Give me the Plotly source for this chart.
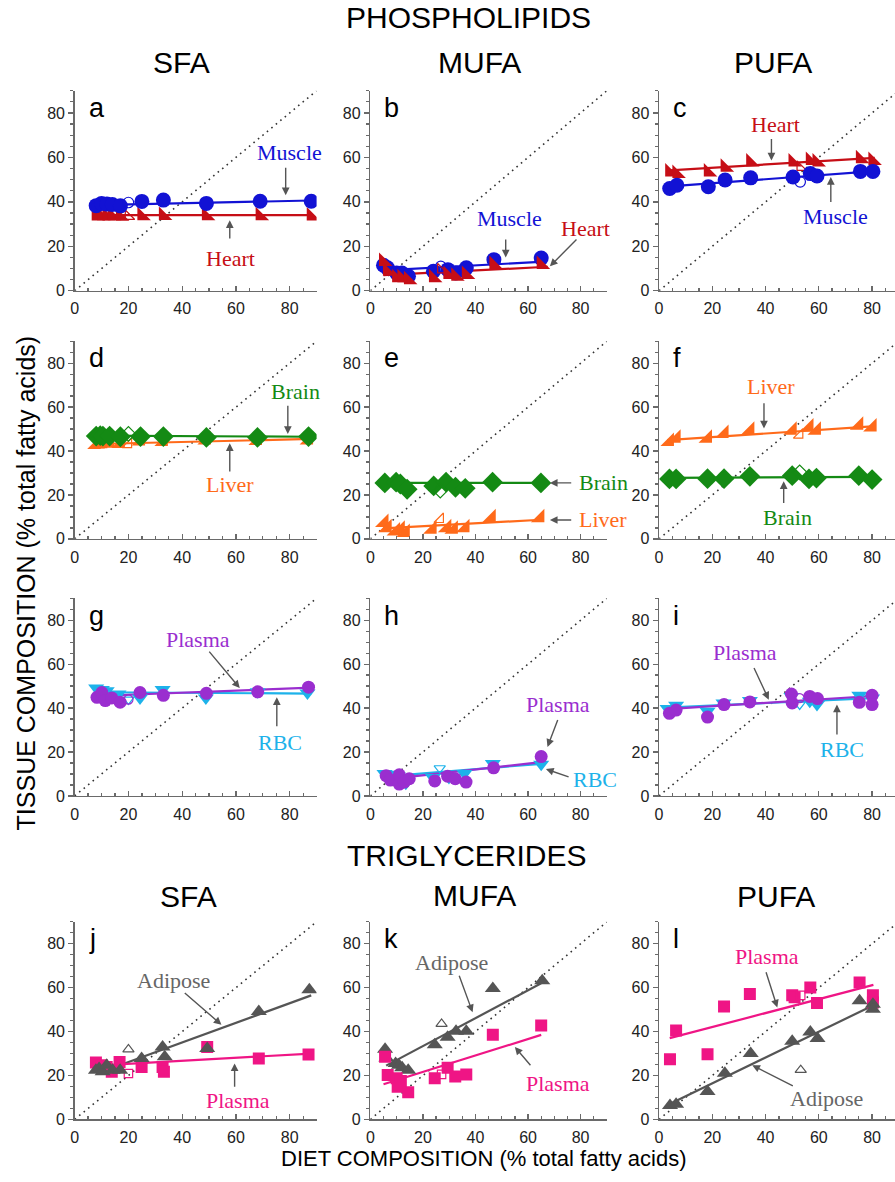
import plotly.graph_objects as go

W, H = 895, 1182

# ---------------- DATA ----------------
TICKS = [0, 20, 40, 60, 80]
IDENTITY = [0, 90]

# a : phospholipids, SFA
a_x = [8, 10, 12, 14, 17, 25, 33, 49, 69, 88]
a_muscle = [38.3, 39.3, 39.0, 38.8, 38.2, 40.2, 40.8, 39.3, 40.3, 40.3]
a_heart = [33.6, 33.8, 33.6, 33.8, 33.5, 33.8, 33.9, 33.7, 33.8, 33.6]
a_ctrl_x = [20]
a_muscle_ctrl = [39.7]
a_heart_ctrl = [33.5]
a_fit_x = [8, 88]
a_muscle_fit = [38.5, 40.6]
a_heart_fit = [34.0, 34.0]

# b : phospholipids, MUFA
b_x = [5, 6.5, 10, 12, 14.5, 24, 29.5, 32.5, 36.5, 47, 65]
b_muscle = [11.5, 10.3, 8.0, 8.0, 6.5, 8.8, 9.5, 8.0, 10.3, 14.0, 14.7]
b_heart = [13.2, 8.8, 5.8, 5.8, 5.0, 5.8, 7.3, 6.5, 7.3, 11.8, 11.8]
b_ctrl_x = [26.8]
b_muscle_ctrl = [11.0]
b_heart_ctrl = [9.5]
b_muscle_fit_x = [5, 64.5]
b_muscle_fit = [9.2, 13.0]
b_heart_fit_x = [5, 67.5]
b_heart_fit = [7.0, 10.8]

# c : phospholipids, PUFA
c_x = [4, 6.7, 18.5, 24.8, 34.4, 50.3, 56.8, 59.3, 75.6, 80.3]
c_heart = [53.4, 52.7, 53.4, 55.6, 57.9, 57.9, 58.6, 57.9, 59.4, 58.6]
c_muscle = [46.0, 47.5, 46.8, 49.8, 50.8, 51.2, 52.7, 51.6, 53.7, 53.7]
c_ctrl_x = [53]
c_heart_ctrl = [55.6]
c_muscle_ctrl = [49.0]
c_fit_x = [4, 81]
c_heart_fit = [54.2, 59.8]
c_muscle_fit = [47.0, 53.8]

# d : phospholipids, SFA
d_x = [8, 9.5, 10.5, 13, 17, 24.5, 33, 49, 68, 87]
d_brain = [46.8, 47.0, 46.8, 46.8, 46.5, 46.6, 46.6, 46.2, 46.2, 46.6]
d_liver = [43.0, 43.2, 43.3, 43.6, 43.4, 44.6, 44.3, 45.0, 44.8, 45.0]
d_ctrl_x = [20]
d_brain_ctrl = [47.8]
d_liver_ctrl = [43.0]
d_fit_x = [8, 88]
d_brain_fit = [47.0, 46.5]
d_liver_fit = [43.2, 45.5]

# e : phospholipids, MUFA
e_brain_x = [5.5, 9.8, 11.4, 14, 24.1, 28.8, 32.4, 36.1, 46.5, 64.9]
e_brain = [25.5, 25.8, 25.0, 22.6, 24.1, 25.8, 23.5, 23.0, 25.8, 25.5]
e_liver_x = [5.2, 6.4, 9.6, 11.4, 13.3, 23.5, 29.1, 31.6, 36, 46, 64.5]
e_liver = [7.4, 5.1, 3.6, 4.4, 2.9, 4.4, 5.1, 4.4, 5.1, 9.6, 9.6]
e_ctrl_x = [26.6]
e_brain_ctrl = [22.0]
e_liver_ctrl = [8.9]
e_fit_x = [5, 65]
e_brain_fit = [25.5, 25.5]
e_liver_fit = [4.8, 8.7]

# f : phospholipids, PUFA
f_x = [3.9, 6.4, 18.2, 24.4, 34.1, 50, 56.3, 59.1, 75, 80]
f_liver = [44.3, 45.8, 45.8, 48.0, 49.5, 49.5, 51.0, 49.5, 51.8, 51.0]
f_brain = [27.3, 27.3, 27.4, 27.4, 28.5, 28.8, 27.3, 27.7, 28.8, 27.0]
f_ctrl_x = [52.8]
f_liver_ctrl = [47.3]
f_brain_ctrl = [30.3]
f_fit_x = [3, 80]
f_liver_fit = [45.0, 51.2]
f_brain_fit = [27.8, 28.2]

# g : phospholipids, SFA
g_rbc_x = [8, 10.1, 11.9, 16.3, 24.3, 32.7, 48.8, 68.1, 86.6]
g_rbc = [49.1, 48.4, 47.9, 46.4, 44.6, 48.4, 44.6, 47.4, 46.9]
g_plasma_x = [8.3, 10.1, 11.4, 13.8, 16.9, 24.3, 33, 49, 68.1, 87]
g_plasma = [44.9, 47.1, 43.4, 44.6, 42.7, 47.1, 45.8, 46.7, 47.4, 49.5]
g_ctrl_x = [20]
g_rbc_ctrl = [43.9]
g_plasma_ctrl = [43.9]
g_fit_x = [8, 88]
g_plasma_fit = [45.5, 49.3]
g_rbc_fit = [47.2, 46.6]

# h : phospholipids, MUFA
h_rbc_x = [5.4, 6.6, 10.4, 13.5, 23.8, 29.9, 35.8, 46.6, 65]
h_rbc = [10.2, 9.9, 9.2, 5.8, 8.4, 8.4, 10.2, 14.7, 14.4]
h_plasma_x = [6, 7.6, 11, 11, 12.9, 14.8, 24.5, 29.4, 32.3, 36.4, 46.9, 65]
h_plasma = [9.2, 7.2, 9.6, 5.4, 6.3, 7.8, 6.8, 9.0, 7.8, 6.3, 12.8, 17.9]
h_ctrl_x = [26.4]
h_rbc_ctrl = [12.6]
h_plasma_fit_x = [6, 65]
h_plasma_fit = [7.5, 15.4]
h_rbc_fit_x = [5, 65]
h_rbc_fit = [8.8, 14.6]

# i : phospholipids, PUFA
i_rbc_x = [3.2, 6.4, 18.2, 24.2, 34.1, 49.7, 56.6, 59.3, 75.2, 80]
i_rbc = [39.8, 41.3, 38.5, 42.3, 43.4, 45.3, 43.1, 41.6, 45.8, 44.6]
i_plasma_x = [3.9, 6.4, 18.2, 24.4, 34.1, 49.7, 50, 56.6, 59.5, 75.2, 80, 80]
i_plasma = [37.6, 39.1, 35.9, 41.6, 42.8, 46.4, 42.3, 45.3, 44.3, 42.6, 45.8, 41.6]
i_ctrl_x = [52.8]
i_rbc_ctrl = [41.6]
i_plasma_ctrl = [44.5]
i_fit_x = [3, 80]
i_plasma_fit = [39.5, 45.5]
i_rbc_fit = [40.2, 44.5]

# j : triglycerides, SFA
j_adipose_x = [7.9, 9.1, 10.4, 11.9, 14.1, 16.9, 24.9, 32.7, 33.5, 49.3, 68.5, 87.3]
j_adipose = [22.4, 23.2, 21.7, 24.7, 22.4, 22.4, 27.7, 33.0, 28.5, 32.3, 49.1, 59.0]
j_plasma_x = [7.9, 10.1, 11.9, 13.8, 16.7, 24.9, 32.7, 33.2, 49.3, 68.5, 87]
j_plasma = [25.9, 24.7, 23.9, 21.7, 26.2, 23.9, 23.9, 21.7, 33.0, 27.7, 29.6]
j_ctrl_x = [20]
j_adipose_ctrl = [31.9]
j_plasma_ctrl = [20.9]
j_adipose_fit_x = [17, 88]
j_adipose_fit = [24.8, 56.5]
j_plasma_fit_x = [8, 88]
j_plasma_fit = [24.5, 30.0]

# k : triglycerides, MUFA
k_adipose_x = [5.6, 6.1, 9.6, 10.9, 12.1, 14.4, 24.5, 29.4, 32.6, 36.5, 46.6, 65.4]
k_adipose = [32.0, 28.0, 25.5, 24.7, 23.5, 22.4, 34.0, 37.4, 40.1, 40.1, 59.6, 63.1]
k_plasma_x = [5.6, 6.6, 10, 10.4, 11.6, 14.4, 24.5, 29.4, 32.3, 36.5, 46.6, 65]
k_plasma = [28.5, 20.2, 18.7, 14.9, 17.5, 12.4, 18.7, 23.5, 19.5, 20.5, 38.6, 42.8]
k_ctrl_x = [27.1]
k_adipose_ctrl = [43.5]
k_plasma_ctrl = [20.5]
k_adipose_fit_x = [6, 65]
k_adipose_fit = [24.5, 62.0]
k_plasma_fit_x = [5, 65]
k_plasma_fit = [16.0, 38.5]

# l : triglycerides, PUFA
l_plasma_x = [4.1, 6.4, 18.2, 24.4, 34.1, 50, 50.9, 56.8, 59.3, 75.3, 80.3, 80.3]
l_plasma = [27.4, 40.5, 29.7, 51.4, 57.1, 56.6, 55.6, 60.1, 53.0, 62.4, 56.6, 53.3]
l_adipose_x = [4.1, 6.4, 18.2, 24.7, 34.4, 50, 56.8, 59.5, 75.3, 80.3, 80.3]
l_adipose = [6.3, 6.9, 12.7, 21.0, 30.0, 35.6, 39.8, 36.8, 54.0, 52.5, 50.2]
l_ctrl_x = [53.2]
l_plasma_ctrl = [56.5]
l_adipose_ctrl = [22.5]
l_fit_x = [4, 80.5]
l_adipose_fit = [7.0, 52.0]
l_plasma_fit = [37.0, 61.3]

# ---------------- STYLE ----------------
C_MUSCLE = "#1212d4"
C_HEART = "#c60e16"
C_BRAIN = "#148a14"
C_LIVER = "#ff6a1a"
C_PLASMA = "#9a2ecf"
C_RBC = "#1db2ea"
C_ADIPOSE = "#555555"
C_PLASMA_TG = "#ef1585"
ARROW = "#555555"

STY = {
    "muscle": ("circle", C_MUSCLE, 15),
    "heart": ("triangle-sw", C_HEART, 15),
    "brain": ("diamond", C_BRAIN, 16),
    "liver": ("triangle-se", C_LIVER, 15),
    "plasma": ("circle", C_PLASMA, 13),
    "rbc": ("triangle-down", C_RBC, 14),
    "adipose": ("triangle-up", C_ADIPOSE, 14),
    "plasmatg": ("square", C_PLASMA_TG, 12),
}

SANS = "Liberation Sans, Arial, Helvetica, sans-serif"
SERIF = "Liberation Serif, Times New Roman, serif"

# panel geometry in pixels
COLS = [(71, 314, 90), (368, 605.6, 90), (658, 895, 88.6)]
ROWS = [(293, 2.24), (543, 2.2125), (802, 2.2125), (1128, 2.2125)]

fig = go.Figure()


def names(k):
    return ("x" if k == 1 else f"x{k}", "y" if k == 1 else f"y{k}")


def add_fit(k, xs, ys, tissue):
    xr, yr = names(k)
    fig.add_trace(go.Scatter(x=xs, y=ys, mode="lines", xaxis=xr, yaxis=yr,
                             line=dict(color=STY[tissue][1], width=2.2),
                             hoverinfo="skip"))


def add_pts(k, xs, ys, tissue, open_=False):
    xr, yr = names(k)
    sym, col, size = STY[tissue]
    if open_:
        marker = dict(symbol=sym + "-open", color=col, size=size * 0.7,
                      line=dict(width=1.2, color=col))
    else:
        marker = dict(symbol=sym, color=col, size=size, line=dict(width=0))
    fig.add_trace(go.Scatter(x=xs, y=ys, mode="markers", xaxis=xr, yaxis=yr,
                             marker=marker))


def add_identity(k):
    xr, yr = names(k)
    fig.add_trace(go.Scatter(x=IDENTITY, y=IDENTITY, mode="lines", xaxis=xr, yaxis=yr,
                             line=dict(color="#333333", width=1.6, dash="1.6px,4.2px"),
                             hoverinfo="skip"))


for k in range(1, 13):
    add_identity(k)

# a
add_fit(1, a_fit_x, a_muscle_fit, "muscle"); add_fit(1, a_fit_x, a_heart_fit, "heart")
add_pts(1, a_x, a_heart, "heart"); add_pts(1, a_ctrl_x, a_heart_ctrl, "heart", True)
add_pts(1, a_x, a_muscle, "muscle"); add_pts(1, a_ctrl_x, a_muscle_ctrl, "muscle", True)
# b
add_fit(2, b_muscle_fit_x, b_muscle_fit, "muscle"); add_fit(2, b_heart_fit_x, b_heart_fit, "heart")
add_pts(2, b_x, b_muscle, "muscle"); add_pts(2, b_ctrl_x, b_muscle_ctrl, "muscle", True)
add_pts(2, b_x, b_heart, "heart"); add_pts(2, b_ctrl_x, b_heart_ctrl, "heart", True)
# c
add_fit(3, c_fit_x, c_heart_fit, "heart"); add_fit(3, c_fit_x, c_muscle_fit, "muscle")
add_pts(3, c_x, c_heart, "heart"); add_pts(3, c_ctrl_x, c_heart_ctrl, "heart", True)
add_pts(3, c_x, c_muscle, "muscle"); add_pts(3, c_ctrl_x, c_muscle_ctrl, "muscle", True)
# d
add_fit(4, d_fit_x, d_liver_fit, "liver"); add_fit(4, d_fit_x, d_brain_fit, "brain")
add_pts(4, d_x, d_liver, "liver"); add_pts(4, d_ctrl_x, d_liver_ctrl, "liver", True)
add_pts(4, d_x, d_brain, "brain"); add_pts(4, d_ctrl_x, d_brain_ctrl, "brain", True)
# e
add_fit(5, e_fit_x, e_brain_fit, "brain"); add_fit(5, e_fit_x, e_liver_fit, "liver")
add_pts(5, e_brain_x, e_brain, "brain"); add_pts(5, e_ctrl_x, e_brain_ctrl, "brain", True)
add_pts(5, e_liver_x, e_liver, "liver"); add_pts(5, e_ctrl_x, e_liver_ctrl, "liver", True)
# f
add_fit(6, f_fit_x, f_liver_fit, "liver"); add_fit(6, f_fit_x, f_brain_fit, "brain")
add_pts(6, f_x, f_liver, "liver"); add_pts(6, f_ctrl_x, f_liver_ctrl, "liver", True)
add_pts(6, f_x, f_brain, "brain"); add_pts(6, f_ctrl_x, f_brain_ctrl, "brain", True)
# g
add_fit(7, g_fit_x, g_rbc_fit, "rbc"); add_fit(7, g_fit_x, g_plasma_fit, "plasma")
add_pts(7, g_rbc_x, g_rbc, "rbc"); add_pts(7, g_ctrl_x, g_rbc_ctrl, "rbc", True)
add_pts(7, g_plasma_x, g_plasma, "plasma"); add_pts(7, g_ctrl_x, g_plasma_ctrl, "plasma", True)
# h
add_fit(8, h_rbc_fit_x, h_rbc_fit, "rbc"); add_fit(8, h_plasma_fit_x, h_plasma_fit, "plasma")
add_pts(8, h_rbc_x, h_rbc, "rbc"); add_pts(8, h_ctrl_x, h_rbc_ctrl, "rbc", True)
add_pts(8, h_plasma_x, h_plasma, "plasma")
# i
add_fit(9, i_fit_x, i_rbc_fit, "rbc"); add_fit(9, i_fit_x, i_plasma_fit, "plasma")
add_pts(9, i_rbc_x, i_rbc, "rbc"); add_pts(9, i_ctrl_x, i_rbc_ctrl, "rbc", True)
add_pts(9, i_plasma_x, i_plasma, "plasma"); add_pts(9, i_ctrl_x, i_plasma_ctrl, "plasma", True)
# j
add_fit(10, j_adipose_fit_x, j_adipose_fit, "adipose"); add_fit(10, j_plasma_fit_x, j_plasma_fit, "plasmatg")
add_pts(10, j_plasma_x, j_plasma, "plasmatg"); add_pts(10, j_ctrl_x, j_plasma_ctrl, "plasmatg", True)
add_pts(10, j_adipose_x, j_adipose, "adipose"); add_pts(10, j_ctrl_x, j_adipose_ctrl, "adipose", True)
# k
add_fit(11, k_adipose_fit_x, k_adipose_fit, "adipose"); add_fit(11, k_plasma_fit_x, k_plasma_fit, "plasmatg")
add_pts(11, k_adipose_x, k_adipose, "adipose"); add_pts(11, k_ctrl_x, k_adipose_ctrl, "adipose", True)
add_pts(11, k_plasma_x, k_plasma, "plasmatg"); add_pts(11, k_ctrl_x, k_plasma_ctrl, "plasmatg", True)
# l
add_fit(12, l_fit_x, l_adipose_fit, "adipose"); add_fit(12, l_fit_x, l_plasma_fit, "plasmatg")
add_pts(12, l_plasma_x, l_plasma, "plasmatg"); add_pts(12, l_ctrl_x, l_plasma_ctrl, "plasmatg", True)
add_pts(12, l_adipose_x, l_adipose, "adipose"); add_pts(12, l_ctrl_x, l_adipose_ctrl, "adipose", True)

# ---------------- AXES ----------------
layout = {}
for k in range(1, 13):
    r, c = divmod(k - 1, 3)
    x0, x1, xmax = COLS[c]
    y0, sc = ROWS[r]
    ytop = y0 - 90 * sc
    xr, yr = names(k)
    common = dict(showline=True, linecolor="#6a6a6a", linewidth=1.5, showgrid=False,
                  zeroline=False, tickvals=TICKS, tickcolor="#6a6a6a", ticklen=5,
                  tickwidth=1.3, tickfont=dict(family=SANS, size=16, color="#222222"))
    layout["xaxis" if k == 1 else f"xaxis{k}"] = dict(
        common, domain=[x0 / W, x1 / W], range=[0, xmax], anchor=yr, ticks="inside",
        minor=dict(dtick=5, tick0=0, ticks="inside", ticklen=3, tickcolor="#6a6a6a"),
        ticklabelstandoff=3)
    layout["yaxis" if k == 1 else f"yaxis{k}"] = dict(
        common, domain=[1 - y0 / H, 1 - ytop / H], range=[0, 90], anchor=xr, ticks="outside",
        minor=dict(dtick=5, tick0=0, ticks="outside", ticklen=3, tickcolor="#6a6a6a"))

ann = []


def label(k, x, y, text, color, xanchor="center"):
    xr, yr = names(k)
    ann.append(dict(x=x, y=y, xref=xr, yref=yr, text=text, showarrow=False,
                    xanchor=xanchor, yanchor="middle",
                    font=dict(family=SERIF, size=22, color=color)))


def arrow(k, tx, ty, hx, hy):
    xr, yr = names(k)
    ann.append(dict(x=hx, y=hy, ax=tx, ay=ty, xref=xr, yref=yr, axref=xr, ayref=yr,
                    text="", showarrow=True, arrowhead=2, arrowsize=1.1,
                    arrowwidth=1.4, arrowcolor=ARROW, standoff=0, startstandoff=0))


# panel letters
for k, letter in enumerate("abcdefghijkl", start=1):
    xr, yr = names(k)
    ann.append(dict(x=4.6, y=89.9, xref=xr, yref=yr, text=letter, showarrow=False,
                    xanchor="left", yanchor="top",
                    font=dict(family=SANS, size=27, color="#000000")))

label(1, 80, 62, "Muscle", C_MUSCLE); arrow(1, 78.5, 56, 78.5, 43)
label(1, 58, 14.7, "Heart", C_HEART); arrow(1, 57.7, 22.8, 57.7, 31.7)
label(2, 53, 32.6, "Muscle", C_MUSCLE); arrow(2, 51.5, 23.7, 51.5, 15)
label(2, 82, 28, "Heart", C_HEART); arrow(2, 79, 23.7, 68.3, 11)
label(3, 43.7, 75, "Heart", C_HEART); arrow(3, 42.2, 69, 42.2, 58.6)
label(3, 66.2, 33.3, "Muscle", C_MUSCLE); arrow(3, 64.5, 39.3, 64.5, 51.2)
label(4, 82.3, 67.3, "Brain", C_BRAIN); arrow(4, 79.3, 61.3, 79.3, 47.8)
label(4, 57.7, 24.7, "Liver", C_LIVER); arrow(4, 57.7, 30, 57.7, 43.5)
label(5, 78.5, 25.7, "Brain", C_BRAIN, "left"); arrow(5, 77, 25.5, 68.3, 25.5)
label(5, 78.5, 8.8, "Liver", C_LIVER, "left"); arrow(5, 77, 8.6, 68.3, 8.6)
label(6, 41.9, 69.2, "Liver", C_LIVER); arrow(6, 39.4, 62.4, 39.4, 50.3)
label(6, 48.1, 9.6, "Brain", C_BRAIN); arrow(6, 46.8, 15.7, 46.8, 26.2)
label(7, 45.9, 71.4, "Plasma", C_PLASMA); arrow(7, 49.6, 66.4, 61.4, 49.1)
label(7, 76.2, 24.3, "RBC", C_RBC); arrow(7, 75.2, 31, 75.2, 44.9)
label(8, 71.5, 41.6, "Plasma", C_PLASMA); arrow(8, 71.5, 35.3, 67.4, 22.3)
label(8, 76.3, 7.6, "RBC", C_RBC, "left"); arrow(8, 76, 8.4, 66.8, 12.2)
label(9, 32.1, 65.4, "Plasma", C_PLASMA); arrow(9, 35.4, 58.9, 41.2, 43.8)
label(9, 68.7, 21.2, "RBC", C_RBC); arrow(9, 66.8, 27.3, 66.8, 41.6)
label(10, 36.7, 63.1, "Adipose", "#666666"); arrow(10, 40.4, 58.2, 54.6, 43.1)
label(10, 60.7, 8.4, "Plasma", C_PLASMA_TG); arrow(10, 59.5, 14.2, 59.5, 25.5)
label(11, 30.8, 71.4, "Adipose", "#666666"); arrow(11, 33.6, 66.1, 38.9, 48.8)
label(11, 71.5, 16.4, "Plasma", C_PLASMA_TG); arrow(11, 61.4, 24, 55, 33)
label(12, 40.6, 74.4, "Plasma", C_PLASMA_TG); arrow(12, 40, 67.7, 44.4, 51)
label(12, 63, 9.6, "Adipose", "#666666"); arrow(12, 50.8, 14.9, 35, 24.7)


def ptext(xpx, ypx, text, size, angle=0):
    ann.append(dict(x=xpx / W, y=1 - ypx / H, xref="paper", yref="paper", text=text,
                    showarrow=False, xanchor="center", yanchor="middle", textangle=angle,
                    font=dict(family=SANS, size=size, color="#000000")))


ptext(467, 18, "PHOSPHOLIPIDS", 30)
ptext(178, 63, "SFA", 30)
ptext(478, 63, "MUFA", 30)
ptext(772, 63, "PUFA", 30)
ptext(465, 862, "TRIGLYCERIDES", 30)
ptext(185, 903, "SFA", 30)
ptext(473, 902, "MUFA", 30)
ptext(775, 903, "PUFA", 30)
ptext(482, 1167, "DIET COMPOSITION (% total fatty acids)", 22)
ptext(22, 587, "TISSUE COMPOSITION (% total fatty acids)", 25, -90)

fig.update_layout(width=W, height=H, margin=dict(l=0, r=0, t=0, b=0),
                  paper_bgcolor="white", plot_bgcolor="white", showlegend=False,
                  annotations=ann, **layout)

fig.write_html("out.html", config={"displayModeBar": False, "staticPlot": True},
               post_script="document.body.style.margin='0';document.body.style.overflow='hidden';")
